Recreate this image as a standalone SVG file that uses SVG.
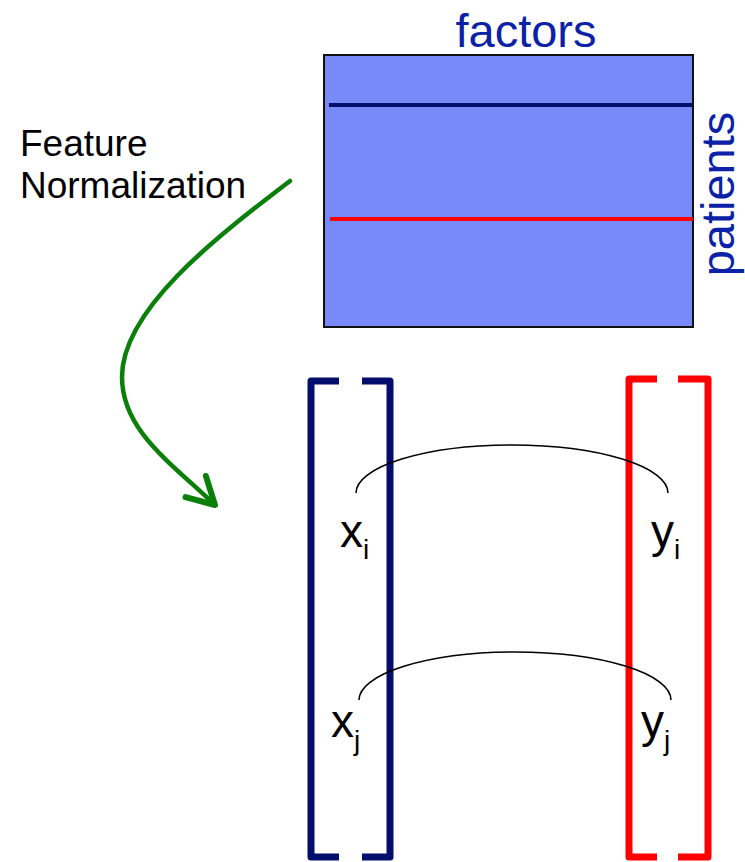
<svg xmlns="http://www.w3.org/2000/svg" width="745" height="862" viewBox="0 0 745 862">
  <style>
    text { font-family: "Liberation Sans", Arial, sans-serif; }
    .lbl { fill: #0b22a8; font-size: 47px; }
    .var { fill: #000000; font-size: 46px; }
    .sub { font-size: 28px; }
    .brk { fill: none; stroke-width: 7; stroke-linejoin: round; }
    .navy { stroke: #030d6b; }
    .red { stroke: #ff0000; }
    .arc { fill: none; stroke: #000000; stroke-width: 1.6; }
  </style>
  <defs>
    <marker id="openArrow" markerUnits="userSpaceOnUse" markerWidth="40" markerHeight="40" viewBox="-25 -15 30 30" refX="0" refY="0" orient="auto">
      <path d="M-20,-11 L0,0 L-20,11" fill="none" stroke="#0a800a" stroke-width="4.5" stroke-linecap="round" stroke-linejoin="round"/>
    </marker>
  </defs>
  <rect width="745" height="862" fill="#ffffff"/>

  <g id="matrix">
    <rect x="324" y="55" width="369" height="272" fill="#7889f8" stroke="#111111" stroke-width="2"/>
    <line x1="329" y1="105" x2="692" y2="105" stroke="#030d6b" stroke-width="4"/>
    <line x1="330" y1="219" x2="693" y2="219" stroke="#ff0000" stroke-width="4"/>
  </g>

  <g id="label-factors">
    <text class="lbl" x="526" y="47" text-anchor="middle">factors</text>
  </g>
  <g id="label-patients">
    <text class="lbl" x="0" y="0" font-size="46" text-anchor="middle" transform="translate(734,194) rotate(-90)">patients</text>
  </g>
  <g id="label-feature-normalization">
    <text x="20" y="156" font-size="37" fill="#000000">Feature</text>
    <text x="20" y="198" font-size="37" fill="#000000">Normalization</text>
  </g>

  <g id="vector-x">
    <path class="brk navy" d="M339,381 L311,381 L311,857 L339,857"/>
    <path class="brk navy" d="M362,381 L390,381 L390,857 L362,857"/>
    <text class="var" x="340" y="547">x<tspan class="sub" dy="12">i</tspan></text>
    <text class="var" x="331" y="737">x<tspan class="sub" dy="13">j</tspan></text>
  </g>

  <g id="vector-y">
    <path class="brk red" d="M657,379 L629,379 L629,857 L657,857"/>
    <path class="brk red" d="M678,379 L708,379 L708,857 L678,857"/>
    <text class="var" x="651" y="547">y<tspan class="sub" dy="12">i</tspan></text>
    <text class="var" x="641" y="737">y<tspan class="sub" dy="13">j</tspan></text>
  </g>

  <g id="connectors">
    <path d="M290,181 C215,238 122,310 122,377 C122,430 170,462 215,505" fill="none" stroke="#0a800a" stroke-width="4.5" stroke-linecap="round" marker-end="url(#openArrow)"/>
    <path class="arc" d="M356,493 A156,48 0 0 1 668,493"/>
    <path class="arc" d="M359,700 A156,48 0 0 1 671,700"/>
  </g>
</svg>
